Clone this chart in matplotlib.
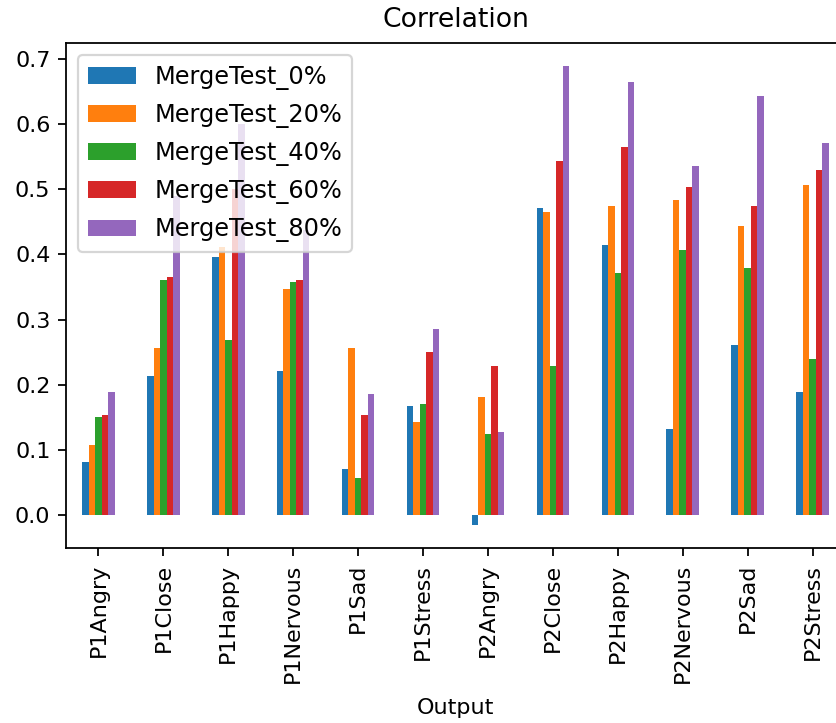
import pandas as pd
import matplotlib
matplotlib.use("Agg")
import matplotlib.pyplot as plt

outputs = ["P1Angry", "P1Close", "P1Happy", "P1Nervous", "P1Sad", "P1Stress",
           "P2Angry", "P2Close", "P2Happy", "P2Nervous", "P2Sad", "P2Stress"]

merge_0 = [0.082, 0.214, 0.396, 0.221, 0.071, 0.168, -0.015, 0.471, 0.414, 0.132, 0.261, 0.189]
merge_20 = [0.107, 0.257, 0.412, 0.347, 0.257, 0.143, 0.182, 0.465, 0.475, 0.483, 0.443, 0.507]
merge_40 = [0.150, 0.361, 0.268, 0.357, 0.057, 0.171, 0.125, 0.229, 0.371, 0.407, 0.379, 0.239]
merge_60 = [0.153, 0.365, 0.500, 0.361, 0.153, 0.250, 0.229, 0.543, 0.565, 0.504, 0.475, 0.529]
merge_80 = [0.189, 0.490, 0.600, 0.438, 0.186, 0.286, 0.128, 0.689, 0.665, 0.536, 0.643, 0.571]

df = pd.DataFrame({
    "MergeTest_0%": merge_0,
    "MergeTest_20%": merge_20,
    "MergeTest_40%": merge_40,
    "MergeTest_60%": merge_60,
    "MergeTest_80%": merge_80,
}, index=pd.Index(outputs, name="Output"))

W, H, DPI = 836, 723, 160
fig = plt.figure(figsize=(W / DPI, H / DPI), dpi=DPI)
# axes frame in pixels: left 66, right 845 (runs past the edge), top 43, bottom 548
ax = fig.add_axes([66 / W, (H - 548) / H, (845 - 66) / W, (548 - 43) / H])

df.plot(kind="bar", ax=ax)
ax.set_title("Correlation", pad=7)
ax.set_xlabel("Output", labelpad=7)
ax.legend(loc="upper left", fontsize=10.8, labelspacing=0.55)

fig.savefig("out.png", dpi=DPI)
